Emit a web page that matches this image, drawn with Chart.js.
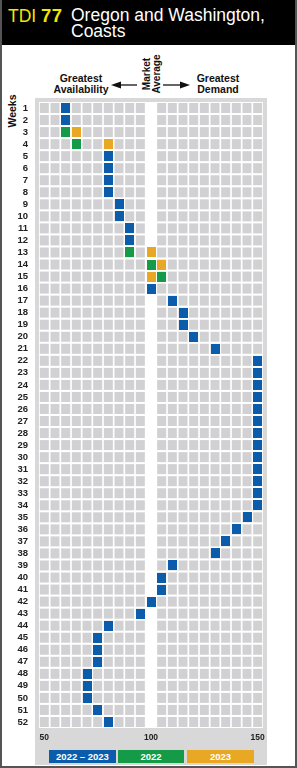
<!DOCTYPE html>
<html>
<head>
<meta charset="utf-8">
<script src="https://cdn.jsdelivr.net/npm/chart.js@4/dist/chart.umd.min.js"></script>
<style>
  html, body { margin: 0; padding: 0; background: #fff; }
  body { width: 297px; height: 768px; position: relative; overflow: hidden; font-family: "Liberation Sans", Arial, sans-serif; }
  .abs { position: absolute; }
  #header { left: 0; top: 0; width: 297px; height: 45px; background: #000; }
  #tdi { left: 8px; top: 8px; font-size: 17.5px; line-height: 15.7px; color: #f2e600; }
  #tdi b { font-size: 18.5px; letter-spacing: 0.5px; }
  #title { left: 71px; top: 8px; font-size: 17.5px; line-height: 15.7px; color: #fff; }
  #panel { left: 35px; top: 98px; width: 232px; height: 667px; background: #d8d8d8; }
  #chart { left: 0; top: 0; }
  .note { font-weight: bold; font-size: 10.5px; line-height: 11px; color: #111; text-align: center; }
  .rot { transform: rotate(-90deg); transform-origin: center center; }
  .key { top: 750px; height: 13px; line-height: 13px; color: #fff; font-size: 9.5px; font-weight: bold; text-align: center; }
  #frame { left: 0; top: 0; width: 297px; height: 768px; box-sizing: border-box; border: 2px solid #555; border-top: none; }
</style>
</head>
<body>
<div id="header" class="abs"></div>
<div id="tdi" class="abs">TDI <b>77</b></div>
<div id="title" class="abs">Oregon and Washington,<br>Coasts</div>

<div class="abs note" style="left:41px; top:73px; width:80px;">Greatest<br>Availability</div>
<div class="abs note" style="left:178px; top:73px; width:80px;">Greatest<br>Demand</div>
<div class="abs note rot" style="left:131.5px; top:64px; width:40px; height:20px; font-size:10px; line-height:9.5px;">Market<br>Average</div>
<svg class="abs" style="left:0; top:0;" width="297" height="100">
  <line x1="119" y1="85" x2="137" y2="85" stroke="#111" stroke-width="1.3"/>
  <polygon points="111,85 121,81.5 121,88.5" fill="#111"/>
  <line x1="163" y1="85" x2="182" y2="85" stroke="#111" stroke-width="1.3"/>
  <polygon points="190,85 180,81.5 180,88.5" fill="#111"/>
</svg>
<div class="abs note rot" style="left:-12px; top:105px; width:50px; height:12px;">Weeks</div>

<div id="panel" class="abs"></div>
<canvas id="chart" class="abs" width="297" height="768"></canvas>

<div class="abs key" style="left:49px; width:67px; background:#0b5dab;">2022 – 2023</div>
<div class="abs key" style="left:118px; width:66px; background:#159a47;">2022</div>
<div class="abs key" style="left:187px; width:67px; background:#e9a823;">2023</div>

<div id="frame" class="abs"></div>

<script>
// weeks of the year, top to bottom
const weeks = ['1','2','3','4','5','6','7','8','9','10','11','12','13','14','15','16','17','18','19','20',
  '21','22','23','24','25','26','27','28','29','30','31','32','33','34','35','36','37','38','39','40',
  '41','42','43','44','45','46','47','48','49','50','51','52'];

// market index per week (50 = greatest availability, 150 = greatest demand)
const both = [60, 60, null, null, 80, 80, 80, 80, 85, 85, 90, 90, null, null, null, 100,
  110, 115, 115, 120, 130, 150, 150, 150, 150, 150, 150, 150, 150, 150, 150, 150, 150, 150,
  145, 140, 135, 130, 110, 105, 105, 100, 95, 80, 75, 75, 75, 70, 70, 70, 75, 80];
const y2022 = [null, null, 60, 65, null, null, null, null, null, null, null, null, 90, 100, 105, null,
  null, null, null, null, null, null, null, null, null, null, null, null, null, null, null, null, null, null,
  null, null, null, null, null, null, null, null, null, null, null, null, null, null, null, null, null, null];
const y2023 = [null, null, 65, 80, null, null, null, null, null, null, null, null, 100, 105, 100, null,
  null, null, null, null, null, null, null, null, null, null, null, null, null, null, null, null, null, null,
  null, null, null, null, null, null, null, null, null, null, null, null, null, null, null, null, null, null];

const seriesNames = ['2022 – 2023', '2022', '2023'];
const xTicks = [50, 100, 150];

const CELL_W = 9, CELL_H = 10;

function cellImage(color) {
  const c = document.createElement('canvas');
  c.width = CELL_W;
  c.height = CELL_H;
  const g = c.getContext('2d');
  g.fillStyle = color;
  g.fillRect(0, 0, CELL_W, CELL_H);
  return c;
}

// gray background cells, the market average column stays white
const cellPlugin = {
  id: 'cells',
  beforeDatasetsDraw(chart) {
    const { ctx, chartArea: a, scales: { x, y } } = chart;
    ctx.save();
    ctx.fillStyle = '#fff';
    ctx.fillRect(a.left, a.top, a.right - a.left, a.bottom - a.top);
    ctx.fillStyle = '#d1d1d3';
    for (let v = 50; v <= 150; v += 5) {
      if (v === 100) continue;
      const cx = x.getPixelForValue(v);
      weeks.forEach((w, i) => {
        const cy = y.getPixelForValue(i);
        ctx.fillRect(cx - CELL_W / 2, cy - CELL_H / 2, CELL_W, CELL_H);
      });
    }
    ctx.restore();
  }
};

function series(label, data, color) {
  return {
    label: label,
    data: data,
    showLine: false,
    pointStyle: cellImage(color),
    pointRadius: 5,
    pointHoverRadius: 5
  };
}

const ctx = document.getElementById('chart').getContext('2d');
new Chart(ctx, {
  type: 'line',
  data: {
    labels: weeks,
    datasets: [
      series(seriesNames[0], both, '#0b5dab'),
      series(seriesNames[1], y2022, '#159a47'),
      series(seriesNames[2], y2023, '#e9a823')
    ]
  },
  options: {
    indexAxis: 'y',
    responsive: false,
    animation: false,
    layout: { padding: { top: 102, left: 0, right: 34, bottom: 16 } },
    plugins: { legend: { display: false }, tooltip: { enabled: false } },
    scales: {
      x: {
        type: 'linear',
        position: 'bottom',
        min: 47.5,
        max: 152.5,
        afterBuildTicks: s => { s.ticks = xTicks.map(v => ({ value: v })); },
        afterFit: s => { s.height = 24; },
        grid: { display: false, drawTicks: false },
        border: { display: false },
        ticks: { padding: 5, autoSkip: false, maxRotation: 0, color: '#222',
          font: { family: 'Liberation Sans', size: 8.5, weight: 'bold' } }
      },
      y: {
        type: 'category',
        offset: true,
        afterFit: s => { s.width = 39; },
        grid: { display: false, drawTicks: false },
        border: { display: false },
        ticks: { padding: 11, autoSkip: false, color: '#222',
          font: { family: 'Liberation Sans', size: 9.5, weight: 'bold' } }
      }
    }
  },
  plugins: [cellPlugin]
});
</script>
</body>
</html>
